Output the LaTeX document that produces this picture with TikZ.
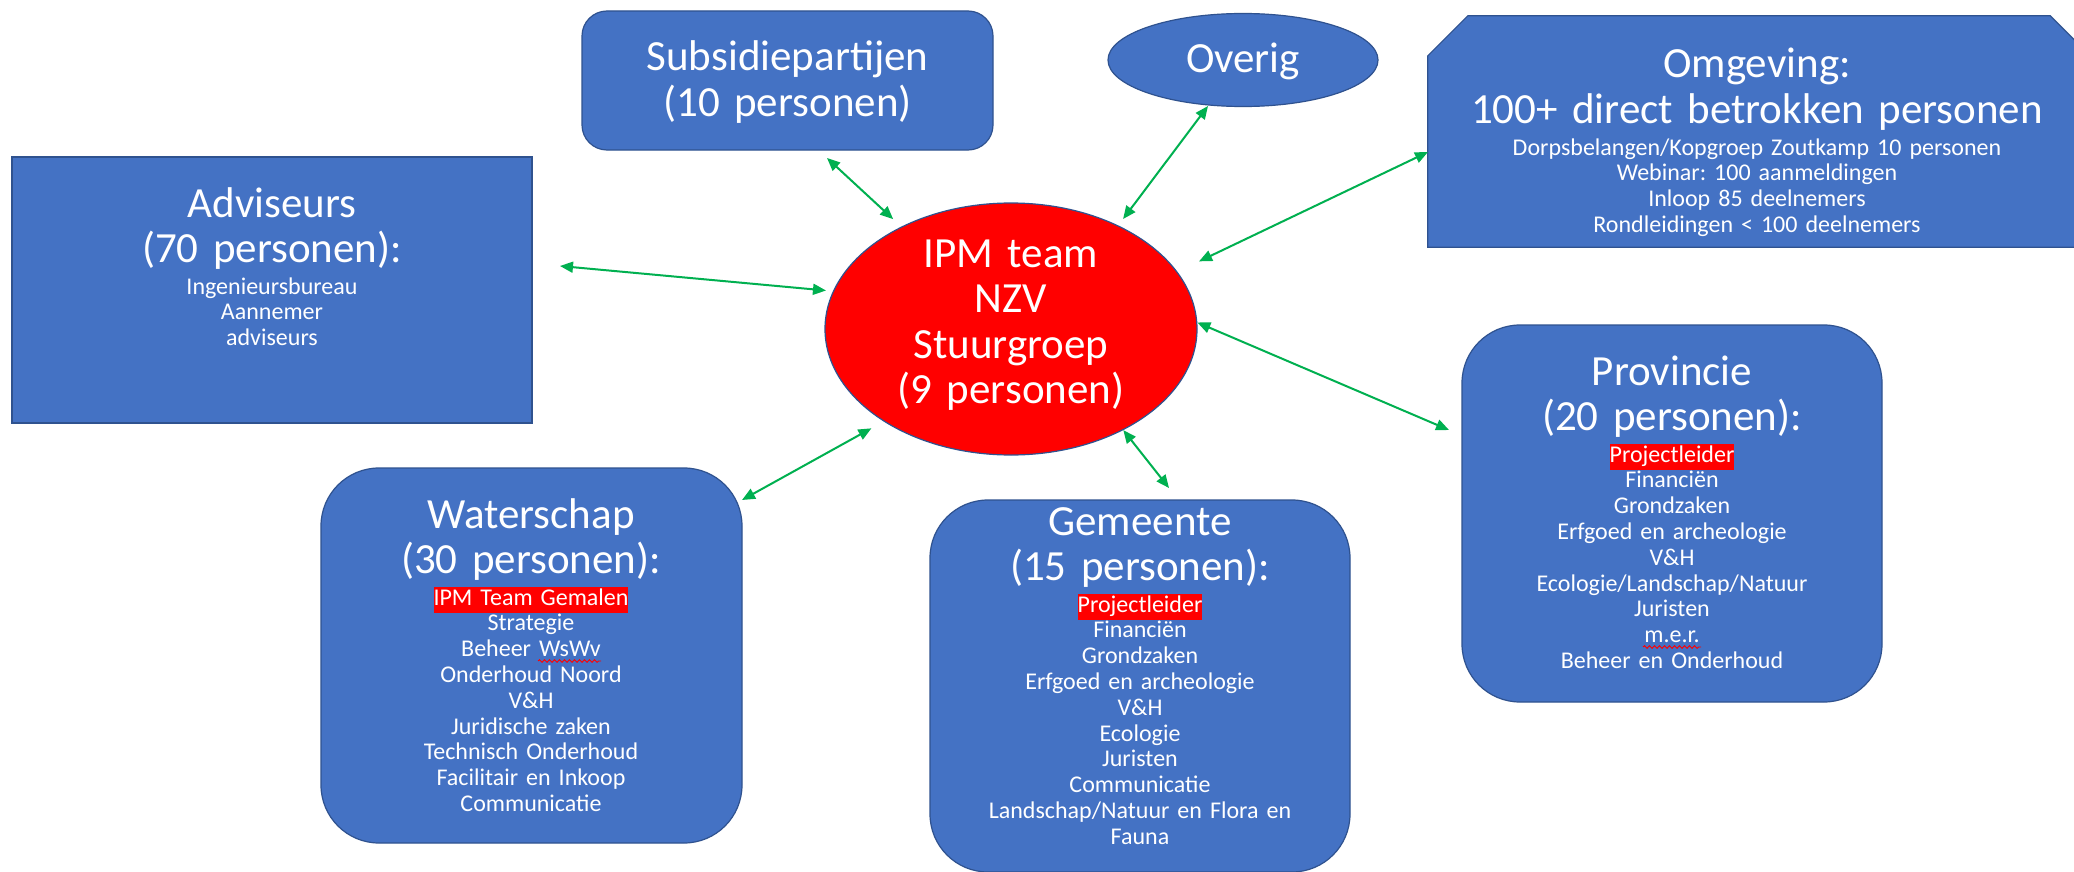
\documentclass[tikz,border=0pt]{standalone}
\usepackage{fontspec}
\setmainfont{Carlito}
\usetikzlibrary{arrows.meta,calc,shapes.geometric,decorations.pathmorphing}
\definecolor{boxblue}{HTML}{4472C4}
\definecolor{edgeblue}{HTML}{2F528F}
\definecolor{arrgreen}{HTML}{00B050}
\definecolor{hlcol}{HTML}{FF0000}
\newcommand\hlred[1]{{\setlength\fboxsep{0pt}\colorbox{hlcol}{\strut #1}}}
\newcommand\bigf{\fontsize{43}{45.5}\selectfont\frenchspacing}
\newcommand\smallf{\fontsize{24}{25.8}\selectfont\frenchspacing}
\begin{document}
\begin{tikzpicture}[x=1pt,y=-1pt,
  box/.style={draw=edgeblue, fill=boxblue, line width=1.2pt, inner sep=0pt},
  rbox/.style={box, rectangle, rounded corners=58pt},
  title/.style={text=white, font=\bigf, align=center, text width=700pt, inner sep=0pt, anchor=base},
  list/.style={text=white, font=\smallf, align=center, text width=700pt, inner sep=0pt, anchor=base},
  conn/.style={draw=arrgreen, line width=2pt, {Triangle[length=13pt,width=11pt]}-{Triangle[length=13pt,width=11pt]}},
  squiggle/.style={draw=hlcol, line width=0.9pt, decorate, decoration={snake, segment length=5pt, amplitude=1.3pt}}
]
\useasboundingbox (0,0) rectangle (2074,872);
\fill[white] (0,0) rectangle (2074,872);

% Subsidiepartijen
\node[box, rectangle, rounded corners=25pt, minimum width=411pt, minimum height=139pt] (sub) at (787.5,80.5) {};
\node[title] (subt) at (787.5,71) {Subsidiepartijen\\(10 personen)};

% Overig
\node[box, ellipse, minimum width=270pt, minimum height=93pt] (ovr) at (1243,60) {};
\node[title] (ovrt) at (1243,73) {Overig};

% Omgeving (snipped corners)
\node[minimum width=662pt, minimum height=231pt, inner sep=0pt] (omg) at (1759,131.5) {};
\filldraw[draw=edgeblue, fill=boxblue, line width=1.2pt]
  (omg.south west) -- ($(omg.north west)+(0,40)$) -- ($(omg.north west)+(40,0)$)
  -- ($(omg.north east)+(-40,0)$) -- ($(omg.north east)+(0,40)$) -- (omg.south east) -- cycle;
\node[title] (omgt) at (1757,78) {Omgeving:\\100+ direct betrokken personen};
\node[list] (omgl) at (1757,155) {Dorpsbelangen/Kopgroep Zoutkamp 10 personen\\Webinar: 100 aanmeldingen\\Inloop 85 deelnemers\\Rondleidingen < 100 deelnemers};

% Adviseurs
\node[box, rectangle, minimum width=520pt, minimum height=266pt] (adv) at (272,290) {};
\node[title] (advt) at (272,217) {Adviseurs\\(70 personen):};
\node[list] (advl) at (272,294) {Ingenieursbureau\\Aannemer\\adviseurs};

% IPM team
\node[ellipse, draw=edgeblue, fill=hlcol, line width=1.2pt, inner sep=0pt, minimum width=372pt, minimum height=252pt] (ipm) at (1011,329) {};
\node[title] (ipmt) at (1011,267) {IPM team\\NZV\\Stuurgroep\\(9 personen)};

% Waterschap
\node[rbox, minimum width=421pt, minimum height=375pt] (wat) at (531.5,655.5) {};
\node[title] (watt) at (531,528) {Waterschap\\(30 personen):};
\node[list] (watl) at (531,605) {\hlred{IPM Team Gemalen}\\Strategie\\Beheer WsWv\\Onderhoud Noord\\V\&H\\Juridische zaken\\Technisch Onderhoud\\Facilitair en Inkoop\\Communicatie};
\coordinate (wavA) at (538,661);
\coordinate (wavB) at (601,661);
\draw[squiggle] (wavA) -- (wavB);

% Gemeente
\node[rbox, minimum width=420pt, minimum height=372pt] (gem) at (1140,686) {};
\node[title] (gemt) at (1140,535) {Gemeente\\(15 personen):};
\node[list] (geml) at (1140,612) {\hlred{Projectleider}\\Financiën\\Grondzaken\\Erfgoed en archeologie\\V\&H\\Ecologie\\Juristen\\Communicatie\\Landschap/Natuur en Flora en\\Fauna};

% Provincie
\node[rbox, minimum width=420pt, minimum height=377pt] (prv) at (1672,513.5) {};
\node[title] (prvt) at (1672,385) {Provincie\\(20 personen):};
\node[list] (prvl) at (1672,462) {\hlred{Projectleider}\\Financiën\\Grondzaken\\Erfgoed en archeologie\\V\&H\\Ecologie/Landschap/Natuur\\Juristen\\m.e.r.\\Beheer en Onderhoud};
\coordinate (werA) at (1643,647);
\coordinate (werB) at (1701,647);
\draw[squiggle] (werA) -- (werB);

% connectors
\coordinate (advE) at (560,266);
\coordinate (subE) at (827,158);
\coordinate (ovrE) at (1208,106);
\coordinate (omgE) at (1428,152);
\coordinate (prvE) at (1449,430);
\coordinate (gemE) at (1169,488);
\coordinate (watE) at (742,500);
\draw[conn, shorten >=7pt] (advE) -- (ipm.168);
\draw[conn, shorten >=11pt] (subE) -- (ipm.137.5);
\draw[conn, shorten >=8pt] (ovrE) -- (ipm.44.7);
\draw[conn, shorten >=24pt] (omgE) -- (ipm.19.7);
\draw[conn] (prvE) -- (ipm.2.5);
\draw[conn] (gemE) -- (ipm.-42.6);
\draw[conn, shorten >=14pt] (watE) -- (ipm.216.2);
\end{tikzpicture}
\end{document}
